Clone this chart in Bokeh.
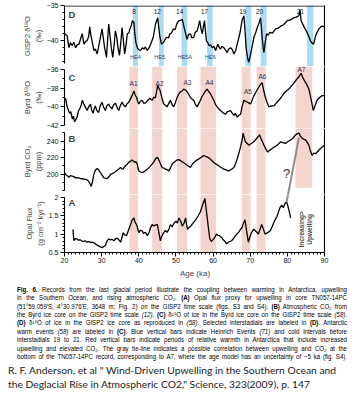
import math
import html as _html
from bokeh.plotting import figure
from bokeh.models import Range1d, BoxAnnotation, Span, Label, FixedTicker, Div
from bokeh.layouts import column
from bokeh.embed import file_html
from bokeh.resources import INLINE

# ---------------- data ----------------
# D: GISP2 d18O (permil) vs age (ka)
gisp_age = [20.0, 20.7, 21.2, 21.6, 22.1, 22.5, 23.0, 23.4, 23.9, 24.4, 24.8, 25.2, 25.7, 26.1, 26.5, 26.8,
            27.1, 27.4, 27.9, 28.3, 28.8, 29.2, 29.5, 30.1, 30.5, 30.8, 31.3, 31.6, 31.9, 32.3, 32.6, 33.0,
            33.4, 33.7, 34.1, 34.4, 34.8, 35.2, 35.5, 35.9, 36.2, 36.6, 36.9, 37.3, 37.6, 38.0, 38.3, 38.7,
            38.9, 39.2, 39.6, 40.0, 40.5, 41.0, 41.4, 41.8, 42.3, 42.8, 43.2, 43.9, 44.5, 45.1, 45.4, 45.7,
            46.1, 46.7, 47.1, 47.5, 48.0, 48.4, 48.8, 49.3, 49.8, 50.2, 50.8, 51.2, 51.7, 52.0, 52.3, 53.0,
            53.4, 53.9, 54.3, 54.8, 55.2, 55.7, 56.1, 56.4, 56.8, 57.1, 57.4, 57.7, 58.2, 58.5, 58.9, 59.3,
            59.8, 60.2, 60.7, 61.0, 61.3, 61.7, 62.0, 62.4, 62.9, 63.3, 63.8, 64.2, 64.7, 65.2, 65.6, 66.1,
            66.5, 67.2, 67.8, 68.3, 68.6, 68.9, 69.3, 69.6, 70.0, 70.3, 71.0, 71.5, 71.9, 72.4, 72.8, 73.0,
            73.2, 73.5, 73.7, 74.0, 74.4, 74.8, 75.3, 76.0, 76.8, 77.5, 78.2, 79.0, 80.0, 80.8, 81.7, 82.4,
            83.1, 83.4, 83.7, 84.4, 84.9, 85.3, 85.8, 86.2, 86.6, 87.0, 87.3, 87.6, 88.0, 88.5, 89.0, 89.4, 90.0]
gisp_d18o = [-39.0, -39.3, -41.0, -40.3, -40.7, -40.2, -41.0, -40.6, -40.5, -39.6, -39.0, -40.5, -40.1, -40.0, -39.4, -38.0,
             -39.2, -40.0, -41.4, -41.2, -41.9, -40.8, -40.0, -38.3, -39.8, -41.0, -42.4, -40.0, -37.6, -39.5, -41.0, -42.4,
             -40.4, -38.6, -39.6, -41.0, -42.1, -40.0, -38.1, -40.2, -41.9, -40.5, -39.0, -38.9, -38.3, -37.8, -37.1, -37.4,
             -38.8, -40.2, -41.0, -41.3, -41.4, -41.0, -41.2, -40.9, -41.4, -41.0, -40.5, -39.5, -37.6, -36.7, -38.2, -39.5,
             -40.5, -40.2, -39.8, -39.5, -39.6, -39.0, -38.9, -38.3, -38.4, -37.6, -37.1, -37.1, -36.9, -37.6, -38.3, -39.8,
             -39.1, -39.0, -39.6, -39.5, -38.8, -38.6, -37.8, -37.1, -38.4, -39.0, -38.0, -37.1, -40.0, -40.2, -40.7, -40.6,
             -41.0, -40.8, -41.4, -40.9, -40.5, -41.0, -41.2, -40.8, -41.0, -41.3, -41.7, -41.2, -41.0, -41.3, -41.9, -41.4,
             -40.5, -39.0, -37.1, -36.4, -38.5, -41.0, -42.5, -43.1, -42.2, -41.4, -39.5, -38.8, -38.1, -37.4, -36.7, -38.0,
             -39.5, -41.0, -41.7, -40.4, -39.0, -39.2, -38.8, -38.9, -38.3, -38.2, -37.9, -37.7, -37.1, -37.0, -36.7, -36.6,
             -36.4, -35.5, -37.1, -37.9, -38.4, -38.8, -39.4, -40.0, -40.3, -40.5, -40.0, -39.3, -38.8, -38.3, -38.0, -37.9, -38.0]

# C: Byrd d18O (permil)
byrd_age = [20.0, 20.3, 20.7, 21.0, 21.4, 21.7, 22.1, 22.4, 22.7, 23.0, 23.4, 23.7, 24.1, 24.5, 24.8, 25.2,
            25.6, 26.1, 26.5, 27.0, 27.3, 27.7, 28.0, 28.3, 28.7, 29.2, 29.6, 30.1, 30.5, 31.0, 31.4, 31.9,
            32.3, 32.8, 33.2, 33.7, 34.1, 34.6, 35.0, 35.5, 35.9, 36.4, 36.8, 37.3, 37.7, 38.2, 38.7, 39.0,
            39.4, 39.7, 40.0, 40.4, 40.9, 41.3, 41.8, 42.4, 43.0, 43.6, 44.0, 44.5, 45.1, 45.4, 45.7, 46.2,
            46.7, 47.1, 47.6, 48.1, 48.5, 49.0, 49.4, 49.9, 50.3, 50.8, 51.2, 51.7, 52.1, 52.6, 53.0, 53.5,
            53.9, 54.4, 54.8, 55.2, 55.7, 56.2, 56.6, 57.0, 57.5, 58.0, 58.4, 58.9, 59.3, 59.8, 60.2, 60.6,
            61.1, 61.5, 62.0, 62.6, 63.3, 63.9, 64.7, 65.2, 65.6, 66.0, 66.5, 67.0, 67.4, 67.8, 68.3, 68.8,
            69.2, 69.7, 70.1, 70.6, 71.0, 71.7, 72.3, 72.8, 73.2, 73.6, 74.1, 74.6, 75.0, 75.7, 76.4, 77.0,
            77.7, 78.3, 79.0, 79.7, 80.4, 81.0, 81.7, 82.4, 83.1, 83.7, 84.1, 84.6, 85.2, 85.8, 86.4, 87.0,
            87.5, 88.0, 88.7, 89.4, 90.0]
byrd_d18o = [-39.2, -39.1, -40.0, -40.3, -40.7, -40.5, -41.3, -41.0, -41.6, -41.4, -41.1, -40.5, -40.2, -39.8, -39.3, -39.7,
             -40.0, -40.4, -40.0, -39.7, -40.3, -40.7, -40.2, -39.9, -40.4, -40.6, -39.9, -39.5, -40.0, -40.4, -39.9, -39.7,
             -40.0, -40.2, -39.8, -39.6, -40.0, -40.4, -39.9, -39.5, -39.8, -40.0, -39.7, -39.5, -39.2, -38.8, -38.3, -38.7,
             -39.0, -39.4, -39.7, -39.4, -39.3, -39.6, -39.6, -39.3, -39.1, -39.3, -39.0, -39.0, -37.7, -38.0, -38.2, -39.0,
             -39.7, -39.8, -40.0, -39.6, -39.3, -39.8, -40.0, -39.5, -39.0, -38.6, -38.4, -38.3, -38.1, -38.2, -38.4, -38.7,
             -39.0, -39.2, -39.3, -39.7, -40.0, -39.6, -39.3, -38.9, -38.6, -38.3, -38.1, -38.4, -38.6, -39.0, -39.3, -39.7,
             -40.0, -40.2, -40.4, -40.6, -40.8, -40.5, -40.4, -40.7, -40.9, -40.7, -41.1, -40.9, -40.8, -40.0, -39.3, -39.4,
             -39.5, -39.6, -39.7, -39.2, -38.8, -38.3, -37.9, -37.6, -37.4, -38.2, -39.0, -39.6, -40.0, -39.9, -39.9, -39.6,
             -39.3, -39.0, -38.6, -38.3, -38.1, -37.8, -37.5, -37.1, -36.8, -36.4, -36.8, -37.2, -37.6, -38.1, -39.2, -40.4,
             -39.8, -39.3, -39.0, -38.8, -38.8]

# B: Byrd CO2 (ppm)
co2_age = [20.0, 20.3, 21.2, 21.6, 22.1, 22.6, 23.0, 23.6, 24.3, 25.0, 25.7, 26.2, 26.5, 26.9, 27.2, 27.5,
           27.9, 28.3, 28.8, 29.3, 29.7, 30.2, 30.6, 31.0, 31.5, 32.0, 32.4, 32.9, 33.3, 33.8, 34.2, 34.7,
           35.1, 35.5, 35.8, 36.1, 36.4, 36.9, 37.3, 37.8, 38.2, 38.6, 38.9, 39.2, 39.6, 39.8, 40.0, 40.5,
           40.9, 41.6, 42.3, 43.0, 43.6, 44.1, 44.5, 45.0, 45.3, 45.7, 46.0, 46.3, 46.8, 47.2, 47.7, 48.1,
           48.6, 49.0, 49.6, 50.3, 50.8, 51.2, 51.8, 52.6, 53.2, 53.9, 54.3, 54.8, 55.5, 56.2, 56.9, 57.5,
           58.2, 58.9, 59.5, 60.2, 60.8, 61.5, 62.2, 62.9, 63.5, 64.2, 64.9, 65.6, 66.1, 66.5, 67.0, 67.4,
           67.8, 68.1, 68.4, 68.7, 69.2, 69.6, 70.3, 71.0, 71.8, 72.5, 73.0, 73.5, 74.1, 74.7, 75.3, 75.9,
           76.6, 77.3, 78.2, 78.8, 79.5, 80.2, 80.9, 81.6, 82.2, 82.7, 83.1, 83.5, 84.0, 84.5, 84.9, 85.4,
           85.8, 86.2, 86.7, 87.1, 87.6, 88.3, 88.9, 89.5, 90.0]
co2_ppm = [201.6, 199.6, 196.0, 198.0, 197.5, 196.5, 195.4, 195.5, 194.6, 194.0, 193.4, 192.5, 191.3, 188.0, 185.0, 190.0,
           199.6, 204.5, 206.7, 204.5, 201.6, 198.0, 195.4, 195.0, 194.6, 197.0, 199.6, 200.5, 201.6, 203.0, 204.6, 206.5,
           207.9, 206.0, 205.9, 208.5, 210.0, 212.0, 214.1, 215.5, 217.1, 215.5, 214.1, 215.0, 212.1, 207.0, 203.8, 202.5,
           201.6, 203.5, 205.9, 209.0, 212.1, 215.0, 218.4, 220.4, 218.0, 214.1, 210.5, 207.9, 207.0, 205.9, 205.0, 203.8,
           208.0, 212.1, 214.5, 217.1, 217.5, 216.3, 214.5, 212.1, 210.0, 207.9, 211.0, 214.1, 216.5, 218.4, 220.5, 222.5,
           221.0, 219.6, 217.0, 214.1, 212.0, 210.0, 208.0, 205.9, 205.0, 203.8, 205.5, 207.9, 213.0, 218.4, 226.0, 232.9,
           241.0, 249.6, 244.0, 239.1, 237.0, 235.0, 237.0, 239.1, 243.5, 247.5, 242.0, 237.1, 231.0, 226.6, 229.0, 230.9,
           233.0, 235.0, 239.1, 238.0, 237.1, 239.5, 241.3, 244.0, 247.5, 249.0, 249.6, 246.0, 243.4, 242.0, 241.3, 238.0,
           235.0, 228.0, 222.5, 225.5, 224.6, 228.0, 230.9, 233.0, 235.0]

# A: Opal flux (g cm-2 kyr-1)
opal_age = [22.3, 22.5, 22.9, 23.4, 23.8, 24.2, 24.7, 25.1, 25.6, 26.1, 26.6, 27.0, 27.4, 27.9, 28.3, 28.8,
            29.2, 29.6, 30.1, 30.5, 31.0, 31.4, 31.9, 32.4, 32.8, 33.3, 33.8, 34.2, 34.7, 35.1, 35.5, 35.8,
            36.2, 36.7, 37.2, 37.8, 38.2, 38.7, 39.0, 39.4, 39.7, 40.0, 40.4, 40.9, 41.3, 41.8, 42.3, 42.8,
            43.2, 43.6, 44.0, 44.5, 45.0, 45.4, 45.8, 46.2, 46.7, 47.2, 47.6, 48.1, 48.5, 49.0, 49.5, 50.0,
            50.4, 50.8, 51.3, 51.7, 52.2, 52.6, 53.1, 53.5, 54.0, 54.6, 55.3, 55.9, 56.6, 57.2, 57.8, 58.3,
            58.7, 59.1, 59.5, 60.0, 60.5, 60.9, 61.3, 61.8, 62.3, 62.7, 63.2, 63.6, 64.1, 64.5, 65.0, 65.5,
            66.0, 66.4, 66.9, 67.3, 67.8, 68.2, 68.6, 69.0, 69.5, 70.0, 70.4, 70.9, 71.3, 71.8, 72.2, 72.6,
            73.1, 73.5, 74.0, 74.5, 75.0, 75.4, 75.9, 76.3, 76.7, 77.2, 77.6, 78.0, 78.5, 78.9, 79.3, 79.7,
            80.0, 80.3, 80.6, 80.9]
opal_flux = [1.13, 0.82, 0.88, 0.87, 0.83, 0.85, 0.81, 0.80, 0.82, 0.78, 0.80, 0.77, 0.78, 0.76, 0.74, 0.70,
             0.68, 0.66, 0.63, 0.66, 0.69, 0.80, 0.87, 0.84, 0.86, 0.82, 0.88, 0.89, 0.84, 0.78, 0.92, 1.04,
             0.98, 0.96, 1.10, 1.26, 1.38, 1.44, 1.32, 1.26, 1.15, 1.04, 1.10, 1.09, 1.02, 1.05, 0.96, 1.05,
             1.18, 1.26, 1.22, 1.25, 1.26, 1.05, 0.82, 0.95, 1.04, 1.10, 1.05, 1.13, 1.26, 1.20, 1.30, 1.35,
             1.30, 1.44, 1.35, 1.22, 1.30, 1.44, 1.13, 1.18, 1.22, 1.30, 1.39, 1.48, 1.61, 1.80, 1.97, 1.55,
             1.20, 0.88, 0.80, 0.85, 0.92, 1.00, 0.97, 0.95, 0.91, 0.85, 0.80, 0.74, 0.78, 0.80, 0.82, 0.88,
             0.95, 1.00, 1.05, 1.12, 1.18, 1.30, 1.39, 1.10, 0.78, 0.95, 1.05, 1.13, 1.10, 1.05, 1.00, 1.12,
             1.26, 1.15, 1.00, 1.03, 1.06, 1.09, 1.20, 1.30, 1.39, 1.48, 1.60, 1.72, 1.79, 1.72, 1.82, 1.88,
             1.82, 1.70, 1.58, 1.44]

# Blue bars (Heinrich events / cold intervals), ka
blue_start = [38.4, 45.4, 51.5, 58.4, 68.7, 72.8, 85.3]
blue_end = [39.8, 46.7, 53.0, 59.9, 70.3, 74.4, 87.0]
# Red bars (Antarctic warm events A1..A7), ka
red_start = [37.5, 43.6, 50.3, 56.6, 67.7, 71.7, 82.2]
red_end = [39.8, 46.3, 53.0, 60.8, 70.1, 74.1, 86.7]
a7_bottom_co2 = 183.5   # A7 bar stops inside the CO2 panel

interstadial_labels = ["8", "12", "14", "17", "19", "20", "21"]
interstadial_age = [38.7, 45.0, 51.0, 57.7, 68.0, 72.5, 83.5]
he_labels = ["HE4", "HE5", "HE5A", "HE6"]
he_age = [39.1, 45.6, 52.4, 59.3]
warm_labels = ["A1", "A2", "A3", "A4", "A5", "A6", "A7"]
warm_age = [38.6, 45.6, 53.1, 59.0, 69.4, 73.3, 83.8]
warm_val = [-37.5, -37.5, -37.4, -37.4, -38.4, -36.8, -36.05]

tie_top = (83.1, 244.0)     # CO2 panel (ka, ppm)
tie_bottom = (79.8, 1.88)   # opal panel (ka, flux)

x_major = [20, 30, 40, 50, 60, 70, 80, 90]

caption_head = "Fig. 6."
caption_lines = [
    "Records from the last glacial period illustrate the coupling between warming in Antarctica, upwelling",
    "in the Southern Ocean, and rising atmospheric CO\u2082. (A) Opal flux proxy for upwelling in core TN057-14PC",
    "(51\u00b059.059\u2032S, 4\u00b030.976\u2032E, 3648 m; Fig. 2) on the GISP2 time scale (figs. S3 and S4). (B) Atmospheric CO\u2082 from",
    "the Byrd ice core on the GISP2 time scale (12). (C) \u03b4\u00b9\u2078O of ice in the Byrd ice core on the GISP2 time scale (58).",
    "(D) \u03b4\u00b9\u2078O of ice in the GISP2 ice core as reproduced in (58). Selected interstadials are labeled in (D). Antarctic",
    "warm events (58) are labeled in (C). Blue vertical bars indicate Heinrich Events (71) and cold intervals before",
    "interstadials 19 to 21. Red vertical bars indicate periods of relative warmth in Antarctica that include increased",
    "upwelling and elevated CO\u2082. The gray tie-line indicates a possible correlation between upwelling and CO\u2082 at the",
    "bottom of the TN057-14PC record, corresponding to A7, where the age model has an uncertainty of ~5 ka (fig. S4).",
]
citation_lines = [
    'R. F. Anderson, et al " Wind-Driven Upwelling in the Southern Ocean and',
    'the Deglacial Rise in Atmospheric CO2," Science, 323(2009), p. 147',
]

# ---------------- layout ----------------
TOTAL_W, TOTAL_H = 363, 400
LEFT = 64
FW = 261
RIGHT = TOTAL_W - LEFT - FW
XR = (20, 90.27)
FONT = "Liberation Sans"
RED = "#f3d4cf"
BLUE = "#a9dcf4"
LW = 1.3

D_H, D_TOP = 66, 5
C_H = 62
B_H = 66
A_FRAME, A_BOT = 60, 26
A_H = A_FRAME + A_BOT
CAP_TOP = D_H + C_H + B_H + A_H
CAP_H = TOTAL_H - CAP_TOP

D_R = (-43.71, -34.93)
C_R = (-42.32, -35.68)
B_R = (175.2, 255.2)
A_R = (0.5, 2.079)


def make_fig(h, yr, top=0, bottom=0, xaxis=False):
    f = figure(width=TOTAL_W, height=h, x_range=Range1d(*XR), y_range=Range1d(*yr),
               output_backend="svg", toolbar_location=None,
               x_axis_location="below" if xaxis else None,
               min_border_left=LEFT, min_border_right=RIGHT,
               min_border_top=top, min_border_bottom=bottom)
    f.outline_line_color = None
    f.grid.visible = False
    f.background_fill_color = "white"
    f.border_fill_color = "white"
    ax = f.yaxis[0]
    ax.axis_line_width = 1.1
    ax.major_tick_in = 0
    ax.major_tick_out = 4
    ax.minor_tick_in = 0
    ax.minor_tick_out = 2
    ax.major_label_standoff = 2
    ax.major_label_text_font = FONT
    ax.major_label_text_font_size = "7px"
    ax.major_label_text_color = "#111111"
    ax.axis_label_text_font = FONT
    ax.axis_label_text_font_size = "7.5px"
    ax.axis_label_text_font_style = "normal"
    ax.axis_label_standoff = 1
    f.add_layout(Span(location=90, dimension="height", line_color="black", line_width=1.1))
    return f


def panel_letter(f, txt, yr, off):
    f.add_layout(Label(x=XR[0], y=yr[1], x_offset=4, y_offset=-off, text=txt,
                       text_font=FONT, text_font_size="9.5px", text_font_style="bold",
                       text_baseline="top", text_align="left"))


# ---- D ----
fD = make_fig(D_H, D_R, top=D_TOP)
fD.yaxis[0].ticker = FixedTicker(ticks=[-35, -40], minor_ticks=[-36, -37, -38, -39, -41, -42, -43])
fD.yaxis[0].bounds = (-43.3, -35)
fD.yaxis[0].axis_label = "GISP2 \u03b4\u00b9\u2078O\n(\u2030)"
for s, e in zip(blue_start, blue_end):
    fD.add_layout(BoxAnnotation(left=s, right=e, fill_color=BLUE, fill_alpha=1, line_color=None, level="underlay"))
fD.line(gisp_age, gisp_d18o, line_color="black", line_width=LW)
fD.add_layout(Span(location=-35, dimension="width", line_color="black", line_width=1.1))
for t, a in zip(interstadial_labels, interstadial_age):
    fD.add_layout(Label(x=a, y=D_R[1], y_offset=-3, text=t, text_font=FONT, text_font_size="6.5px",
                        text_align="center", text_baseline="top", text_color="#222222"))
for t, a in zip(he_labels, he_age):
    fD.add_layout(Label(x=a, y=-42.4, text=t, text_font=FONT, text_font_size="5.5px",
                        text_align="center", text_baseline="middle", text_color="#2a4578"))
panel_letter(fD, "D", D_R, 3)

# ---- C ----
fC = make_fig(C_H, C_R)
fC.yaxis[0].ticker = FixedTicker(ticks=[-36, -38, -40, -42], minor_ticks=[-37, -39, -41])
fC.yaxis[0].bounds = (-42, -36)
fC.yaxis[0].axis_label = "Byrd \u03b4\u00b9\u2078O\n(\u2030)"
for s, e in zip(red_start, red_end):
    fC.add_layout(BoxAnnotation(left=s, right=e, fill_color=RED, fill_alpha=1, line_color=None, level="underlay"))
fC.line(byrd_age, byrd_d18o, line_color="black", line_width=LW)
for t, a, v in zip(warm_labels, warm_age, warm_val):
    fC.add_layout(Label(x=a, y=v, text=t, text_font=FONT, text_font_size="6.5px",
                        text_align="center", text_baseline="middle", text_color="#26305a"))
panel_letter(fC, "C", C_R, 5)

# ---- B ----
fB = make_fig(B_H, B_R)
fB.yaxis[0].ticker = FixedTicker(ticks=[200, 220, 240], minor_ticks=[180, 190, 210, 230, 250])
fB.yaxis[0].bounds = (180, 250)
fB.yaxis[0].axis_label = "Byrd CO\u2082\n(ppm)"
for i, (s, e) in enumerate(zip(red_start, red_end)):
    bottom = a7_bottom_co2 if i == len(red_start) - 1 else None
    fB.add_layout(BoxAnnotation(left=s, right=e, bottom=bottom, fill_color=RED, fill_alpha=1,
                                line_color=None, level="underlay"))
fB.line(co2_age, co2_ppm, line_color="black", line_width=LW)
panel_letter(fB, "B", B_R, 4)

# ---- A ----
fA = make_fig(A_H, A_R, bottom=A_BOT, xaxis=True)
fA.yaxis[0].ticker = FixedTicker(ticks=[0.5, 1.0, 1.5, 2.0],
                                 minor_ticks=[round(0.5 + 0.1 * i, 1) for i in range(16)])
fA.yaxis[0].bounds = (0.5, 2.0)
fA.yaxis[0].axis_label = "Opal Flux\n(g cm\u207b\u00b2 kyr\u207b\u00b9)"
for i, (s, e) in enumerate(zip(red_start, red_end)):
    if i == len(red_start) - 1:
        continue
    fA.add_layout(BoxAnnotation(left=s, right=e, fill_color=RED, fill_alpha=1, line_color=None, level="underlay"))
fA.line(opal_age, opal_flux, line_color="black", line_width=LW)
xa = fA.xaxis[0]
xa.ticker = FixedTicker(ticks=x_major, minor_ticks=list(range(20, 91)))
xa.bounds = (20, 90)
xa.axis_line_width = 1.1
xa.major_tick_in = 0
xa.major_tick_out = 4
xa.minor_tick_in = 0
xa.minor_tick_out = 2
xa.major_label_standoff = 1
xa.major_label_text_font = FONT
xa.major_label_text_font_size = "7px"
xa.major_label_text_color = "#111111"
xa.axis_label = "Age (ka)"
xa.axis_label_text_font = FONT
xa.axis_label_text_font_size = "8px"
xa.axis_label_text_font_style = "normal"
xa.axis_label_standoff = 3
panel_letter(fA, "A", A_R, 2)
fA.add_layout(Label(x=83.8, y=1.13, text="Increasing>", angle=math.pi / 2, text_font=FONT,
                    text_font_size="6.5px", text_font_style="bold", text_align="center", text_baseline="middle"))
fA.add_layout(Label(x=86.0, y=1.13, text="Upwelling", angle=math.pi / 2, text_font=FONT,
                    text_font_size="6.5px", text_font_style="bold", text_align="center", text_baseline="middle"))

# ---- tie line spanning the B and A panels ----
B_top_page = D_H + C_H
A_top_page = B_top_page + B_H


def to_page(v, top, h, r):
    return top + (r[1] - v) / (r[1] - r[0]) * h


def from_page(y, top, h, r):
    return r[1] - (y - top) / h * (r[1] - r[0])


yb_page = to_page(tie_bottom[1], A_top_page, A_FRAME, A_R)
yt_page = to_page(tie_top[1], B_top_page, B_H, B_R)
fB.line([tie_top[0], tie_bottom[0]], [tie_top[1], from_page(yb_page, B_top_page, B_H, B_R)],
        line_color="#8f8f8f", line_width=2)
fA.line([tie_top[0], tie_bottom[0]], [from_page(yt_page, A_top_page, A_FRAME, A_R), tie_bottom[1]],
        line_color="#8f8f8f", line_width=2)
fB.add_layout(Label(x=79.8, y=200.6, text="?", text_font=FONT, text_font_size="13px",
                    text_align="center", text_baseline="middle", text_color="#333333"))

# ---- caption block (HTML) ----
CAP_SIZE = 7.0
CAP_SCALE = 0.87
CAP_LEFT, CAP_WIDTH = 17, 330
first_y, step = 290, 8.4


def fmt(s):
    s = _html.escape(s)
    for tag in ["(A)", "(B)", "(C)", "(D)"]:
        s = s.replace(tag, "<b>" + tag + "</b>")
    for ref in ["(12)", "(58)", "(71)"]:
        s = s.replace(ref, "<i>" + ref + "</i>")
    return s


parts = []
for i, line in enumerate(caption_lines):
    inner = fmt(line)
    if i == 0:
        inner = "<b>" + caption_head + "</b> " + inner
    top = first_y + i * step - CAP_TOP - CAP_SIZE * 0.6
    parts.append(
        f'<div style="position:absolute;left:{CAP_LEFT}px;top:{top:.1f}px;width:{CAP_WIDTH / CAP_SCALE:.1f}px;'
        f'font-family:\'Liberation Sans\';font-size:{CAP_SIZE}px;line-height:{CAP_SIZE * 1.2:.1f}px;'
        f'white-space:nowrap;text-align:justify;text-align-last:justify;color:#000;'
        f'transform:scaleX({CAP_SCALE});transform-origin:0 0;">{inner}</div>')
for i, line in enumerate(citation_lines):
    size = 10.3
    top = 370 + i * 14 - CAP_TOP - size * 0.6
    parts.append(
        f'<div style="position:absolute;left:8px;top:{top:.1f}px;font-family:Lato;font-size:{size}px;'
        f'line-height:{size * 1.2:.1f}px;white-space:nowrap;color:#222;">{_html.escape(line)}</div>')
cap_html = (f'<div style="position:relative;width:{TOTAL_W}px;height:{CAP_H}px;margin:0;padding:0;">'
            + "".join(parts) + "</div>")
cap = Div(text=cap_html, width=TOTAL_W, height=CAP_H, margin=(0, 0, 0, 0))

layout = column(fD, fC, fB, fA, cap, spacing=0)
open("out.html", "w").write(file_html(layout, INLINE))
